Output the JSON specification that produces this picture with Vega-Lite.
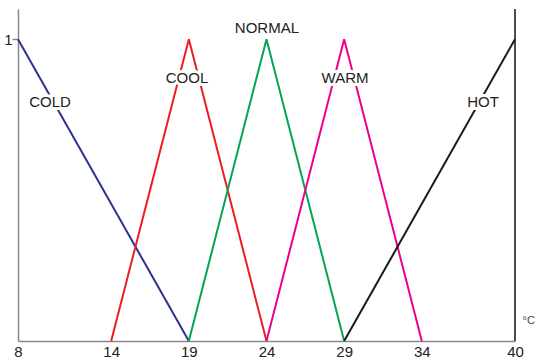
{
  "$schema": "https://vega.github.io/schema/vega-lite/v6.json",
  "width": 497,
  "height": 332,
  "autosize": "none",
  "padding": {"left": 18, "top": 9, "right": 25, "bottom": 23},
  "background": "white",
  "config": {"view": {"stroke": null}, "font": "Liberation Sans"},
  "datasets": {
    "lines": [
      {"set": "COLD", "x": 8, "y": 1},
      {"set": "COLD", "x": 19, "y": 0},
      {"set": "COOL", "x": 14, "y": 0},
      {"set": "COOL", "x": 19, "y": 1},
      {"set": "COOL", "x": 24, "y": 0},
      {"set": "NORMAL", "x": 19, "y": 0},
      {"set": "NORMAL", "x": 24, "y": 1},
      {"set": "NORMAL", "x": 29, "y": 0},
      {"set": "WARM", "x": 24, "y": 0},
      {"set": "WARM", "x": 29, "y": 1},
      {"set": "WARM", "x": 34, "y": 0},
      {"set": "HOT", "x": 29, "y": 0},
      {"set": "HOT", "x": 40, "y": 1}
    ],
    "labels": [
      {"label": "COLD", "x": 10.06, "y": 0.791},
      {"label": "COOL", "x": 18.88, "y": 0.871},
      {"label": "NORMAL", "x": 24.03, "y": 1.036},
      {"label": "WARM", "x": 29.06, "y": 0.871},
      {"label": "HOT", "x": 37.94, "y": 0.791}
    ],
    "edge": [{"x": 40, "y": 0, "y2": 1.1}]
  },
  "layer": [
    {
      "data": {"name": "edge"},
      "mark": {"type": "rule", "color": "#111111", "strokeWidth": 1.5},
      "encoding": {
        "x": {"field": "x", "type": "quantitative", "scale": {"domain": [8, 40], "nice": false, "zero": false},
          "axis": {"values": [8, 14, 19, 24, 29, 34, 40], "grid": false, "ticks": false, "domainColor": "#888888", "domainWidth": 1.5,
            "labelFontSize": 15, "labelColor": "#222222", "labelPadding": 3, "labelFont": "Liberation Sans", "labelFlush": false, "labelOverlap": false,
            "title": "°C", "titleFontSize": 11, "titleFontWeight": "normal", "titleColor": "#444444", "titleX": 504, "titleY": -21, "titleAlign": "left", "titleBaseline": "middle"}},
        "y": {"field": "y", "type": "quantitative", "scale": {"domain": [0, 1.1], "nice": false},
          "axis": {"values": [1], "format": "d", "grid": false, "tickSize": 6, "tickColor": "#888888", "tickWidth": 1.5, "domainColor": "#888888", "domainWidth": 1.5,
            "labelFontSize": 15, "labelColor": "#222222", "labelPadding": 0, "labelFont": "Liberation Sans", "labelFlush": false, "title": null}},
        "y2": {"field": "y2"}
      }
    },
    {
      "data": {"name": "lines"},
      "mark": {"type": "line", "strokeWidth": 2},
      "encoding": {
        "x": {"field": "x", "type": "quantitative"},
        "y": {"field": "y", "type": "quantitative"},
        "color": {"field": "set", "type": "nominal", "legend": null,
          "scale": {"domain": ["COLD", "COOL", "NORMAL", "WARM", "HOT"], "range": ["#2e3192", "#ed1c24", "#00a651", "#ec008c", "#1a1a1a"]}},
        "detail": {"field": "set"}
      }
    },
    {
      "data": {"name": "labels"},
      "mark": {"type": "text", "fontSize": 15, "stroke": "white", "strokeWidth": 6, "fill": "white", "font": "Liberation Sans"},
      "encoding": {
        "x": {"field": "x", "type": "quantitative"},
        "y": {"field": "y", "type": "quantitative"},
        "text": {"field": "label"}
      }
    },
    {
      "data": {"name": "labels"},
      "mark": {"type": "text", "fontSize": 15, "color": "#222222", "font": "Liberation Sans"},
      "encoding": {
        "x": {"field": "x", "type": "quantitative"},
        "y": {"field": "y", "type": "quantitative"},
        "text": {"field": "label"}
      }
    }
  ]
}
